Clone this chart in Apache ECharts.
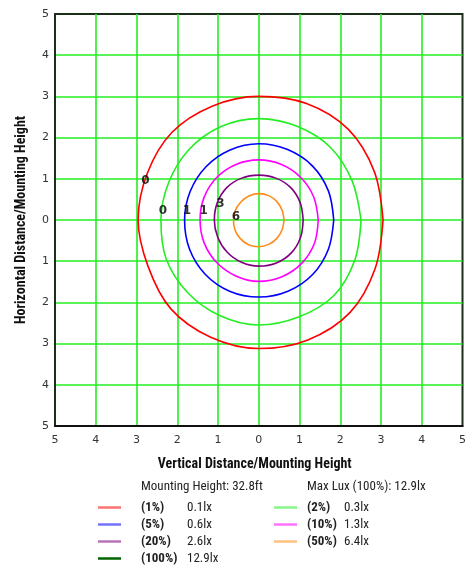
<!DOCTYPE html>
<html>
<head>
<meta charset="utf-8">
<script src="https://cdn.jsdelivr.net/npm/echarts@6/dist/echarts.min.js"></script>
<style>
  html, body { margin: 0; padding: 0; background: #fff; }
  #chart { width: 469px; height: 567px; }
</style>
</head>
<body>
<div id="chart"></div>
<script>
// ---- Data ----
// Angles (degrees, counter-clockwise from +x) at which each contour radius was read
const angles = [0, 22.5, 45, 67.5, 90, 112.5, 135, 157.5, 180, 202.5, 225, 247.5, 270, 292.5, 315, 337.5];
// Contour radii (in units of mounting height) at each angle
const r1pct   = [3.05, 3.07, 3.11, 3.06, 3.00, 2.99, 3.01, 2.96, 2.96, 2.94, 3.05, 3.08, 3.12, 3.15, 3.17, 3.09];
const r2pct   = [2.51, 2.48, 2.49, 2.46, 2.46, 2.45, 2.42, 2.39, 2.40, 2.46, 2.48, 2.51, 2.55, 2.55, 2.60, 2.55];
const r5pct   = [1.84, 1.85, 1.86, 1.85, 1.85, 1.84, 1.83, 1.82, 1.82, 1.84, 1.86, 1.87, 1.87, 1.87, 1.87, 1.85];
const r10pct  = [1.46, 1.46, 1.46, 1.46, 1.46, 1.46, 1.46, 1.45, 1.44, 1.45, 1.46, 1.47, 1.49, 1.49, 1.49, 1.48];
const r20pct  = [1.09, 1.10, 1.11, 1.10, 1.09, 1.10, 1.11, 1.10, 1.09, 1.09, 1.10, 1.11, 1.12, 1.13, 1.13, 1.11];
const r50pct  = [0.62, 0.62, 0.63, 0.64, 0.64, 0.63, 0.62, 0.62, 0.62, 0.63, 0.64, 0.65, 0.65, 0.64, 0.63, 0.62];

const seriesNames = ['(1%)', '(2%)', '(5%)', '(10%)', '(20%)', '(50%)', '(100%)'];
const seriesLux   = ['0.1lx', '0.3lx', '0.6lx', '1.3lx', '2.6lx', '6.4lx', '12.9lx'];
const seriesColors = ['#ff0000', '#22ee22', '#0000ff', '#ff00ff', '#800080', '#ff8c1a', '#006400'];
const seriesRadii = [r1pct, r2pct, r5pct, r10pct, r20pct, r50pct, []];

// Contour value labels (positions in chart units)
const labelX    = [-2.78, -2.35, -1.76, -1.35, -0.94, -0.56];
const labelY    = [0.96, 0.23, 0.21, 0.23, 0.38, 0.08];
const labelText = ['0', '0', '1', '1', '3', '6'];

const axisMin = -5, axisMax = 5, axisStep = 1;
const xAxisTitle = 'Vertical Distance/Mounting Height';
const yAxisTitle = 'Horizontal Distance/Mounting Height';
const headerLeft = 'Mounting Height: 32.8ft';
const headerRight = 'Max Lux (100%): 12.9lx';

const legendLeftCol = ['(1%)', '(5%)', '(20%)', '(100%)'];
const legendRightCol = ['(2%)', '(10%)', '(50%)'];

// ---- Build chart ----
const narrow = "'Roboto Condensed', 'DejaVu Sans Condensed', sans-serif";

function toPoints(radii) {
  if (!radii.length) return [];
  const pts = radii.map((r, i) => {
    const a = angles[i] * Math.PI / 180;
    return [r * Math.cos(a), r * Math.sin(a)];
  });
  pts.push(pts[0]);
  return pts;
}

const contourSeries = seriesNames.map((name, i) => ({
  name: name,
  type: 'line',
  data: toPoints(seriesRadii[i]),
  symbol: 'none',
  smooth: 0.34,
  lineStyle: { color: seriesColors[i], width: 1.6 },
  itemStyle: { color: seriesColors[i] },
  z: 3
}));

const labelSeries = {
  name: 'labels',
  type: 'scatter',
  symbolSize: 0,
  data: labelX.map((x, i) => ({ value: [x, labelY[i]], text: labelText[i] })),
  label: {
    show: true,
    position: 'inside',
    formatter: p => p.data.text,
    color: '#000',
    fontWeight: 'bold',
    fontSize: 12,
    fontFamily: 'DejaVu Sans'
  },
  z: 5,
  silent: true
};

const luxOf = {};
seriesNames.forEach((n, i) => { luxOf[n] = seriesLux[i]; });

function legendFor(names, left, textPad, nameWidth) {
  return {
    orient: 'vertical',
    left: left,
    top: 501,
    padding: 0,
    itemWidth: 23,
    itemHeight: 2.5,
    itemGap: 4,
    icon: 'rect',
    selectedMode: false,
    data: names.map(n => {
      const idx = seriesNames.indexOf(n);
      return { name: n, itemStyle: { color: seriesColors[idx], opacity: n === '(100%)' ? 1 : 0.55 } };
    }),
    formatter: n => '{b|' + n + '}{v|' + luxOf[n] + '}',
    textStyle: {
      padding: [0, 0, 0, textPad],
      rich: {
        b: { fontWeight: 'bold', fontSize: 13, width: nameWidth, color: '#222', fontFamily: narrow },
        v: { fontSize: 13, color: '#222', fontFamily: narrow }
      }
    }
  };
}

const option = {
  animation: false,
  backgroundColor: '#fff',
  grid: {
    left: 55, right: 2, top: 14, bottom: 141,
    show: true, borderColor: '#1a2e1a', borderWidth: 2, backgroundColor: 'transparent'
  },
  xAxis: {
    type: 'value', min: axisMin, max: axisMax, interval: axisStep,
    name: xAxisTitle, nameLocation: 'middle', nameGap: 31,
    nameTextStyle: { fontWeight: 'bold', fontSize: 14, color: '#111', fontFamily: narrow, padding: [0, 8, 0, 0] },
    axisLine: { show: true, onZero: false, lineStyle: { color: '#111', width: 2 } },
    axisTick: { show: false },
    axisLabel: { formatter: v => String(Math.abs(v)), color: '#333', fontSize: 11, margin: 9, fontFamily: 'DejaVu Sans' },
    splitLine: { show: true, showMinLine: false, showMaxLine: false, lineStyle: { color: '#22ee22', width: 1.6 } }
  },
  yAxis: {
    type: 'value', min: axisMin, max: axisMax, interval: axisStep,
    name: yAxisTitle, nameLocation: 'middle', nameGap: 27,
    nameTextStyle: { fontWeight: 'bold', fontSize: 14, color: '#111', fontFamily: narrow },
    axisLine: { show: true, onZero: false, lineStyle: { color: '#1a2e1a', width: 2 } },
    axisTick: { show: false },
    axisLabel: { formatter: v => String(Math.abs(v)), color: '#333', fontSize: 11, margin: 6, fontFamily: 'DejaVu Sans' },
    splitLine: { show: true, showMinLine: false, showMaxLine: false, lineStyle: { color: '#22ee22', width: 1.6 } }
  },
  legend: [legendFor(legendLeftCol, 98, 15, 46), legendFor(legendRightCol, 274, 5, 37)],
  graphic: [
    { type: 'text', left: 141, top: 480, style: { text: headerLeft, fontSize: 13, fill: '#222', fontFamily: narrow } },
    { type: 'text', left: 307, top: 480, style: { text: headerRight, fontSize: 13, fill: '#222', fontFamily: narrow } }
  ],
  series: contourSeries.concat([labelSeries])
};

const chart = echarts.init(document.getElementById('chart'), null, { renderer: 'canvas' });
chart.setOption(option);
</script>
</body>
</html>
